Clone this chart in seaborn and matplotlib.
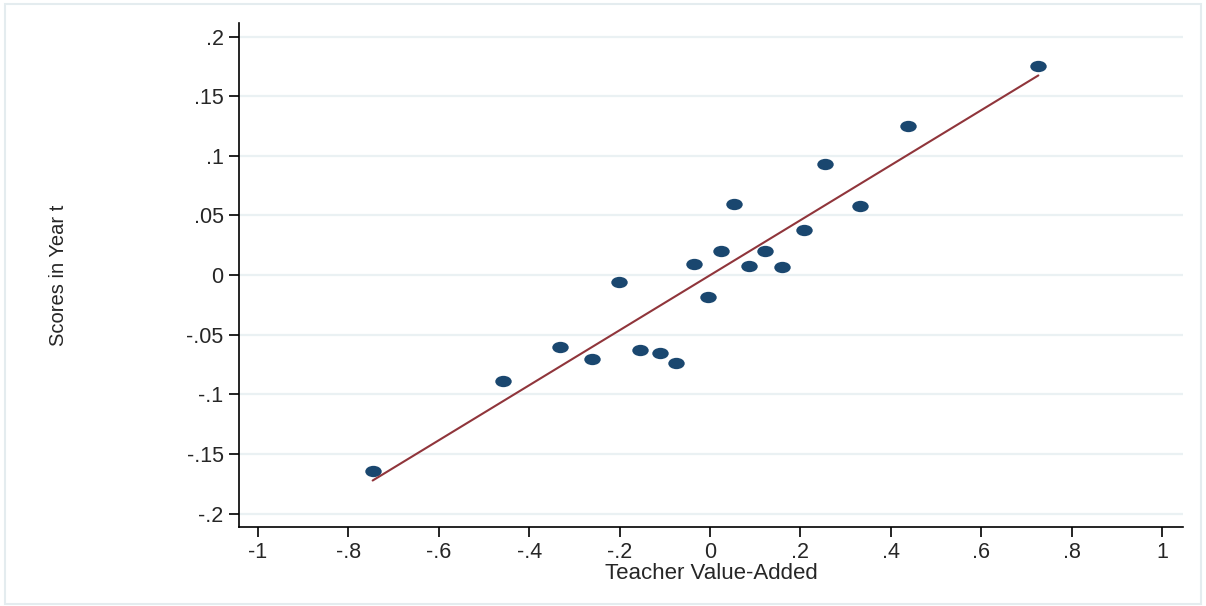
import numpy as np
import matplotlib
matplotlib.use("Agg")
import matplotlib.pyplot as plt
from matplotlib.path import Path
from matplotlib.patches import Rectangle
import seaborn as sns

# binned teacher value-added vs. scores in year t
teacher_va = [-0.746, -0.458, -0.332, -0.261, -0.201, -0.155, -0.111, -0.075,
              -0.035, -0.004, 0.024, 0.053, 0.086, 0.122, 0.159, 0.208,
              0.254, 0.332, 0.438, 0.726]
scores_t = [-0.164, -0.089, -0.060, -0.070, -0.006, -0.063, -0.065, -0.074,
            0.009, -0.018, 0.020, 0.060, 0.008, 0.020, 0.007, 0.038,
            0.093, 0.058, 0.125, 0.175]

x_ticks = [-1, -0.8, -0.6, -0.4, -0.2, 0, 0.2, 0.4, 0.6, 0.8, 1]
x_labels = ["-1", "-.8", "-.6", "-.4", "-.2", "0", ".2", ".4", ".6", ".8", "1"]
y_ticks = [-0.2, -0.15, -0.1, -0.05, 0, 0.05, 0.1, 0.15, 0.2]
y_labels = ["-.2", "-.15", "-.1", "-.05", "0", ".05", ".1", ".15", ".2"]

sns.set_style("white")
plt.rcParams["font.family"] = ["Liberation Sans", "DejaVu Sans"]

# the reference is stretched sideways, so the dots are slightly wide ellipses
circle = Path.unit_circle()
ellipse = Path(circle.vertices * np.array([1.45, 1.0]), circle.codes)

fig = plt.figure(figsize=(12.06, 6.06), dpi=100)
ax = fig.add_axes([0.198, 0.130, 0.783, 0.832])

sns.regplot(x=teacher_va, y=scores_t, ax=ax, ci=None, marker=ellipse,
            scatter_kws={"s": 140, "color": "#1a476f", "linewidths": 0, "alpha": 1},
            line_kws={"color": "#90353b", "linewidth": 1.5})

ax.set_xlim(-1.042, 1.046)
ax.set_ylim(-0.2114, 0.2114)
ax.set_xticks(x_ticks)
ax.set_xticklabels(x_labels)
ax.set_yticks(y_ticks)
ax.set_yticklabels(y_labels)

ax.yaxis.grid(True, color="#eaf1f3", linewidth=1.6)
ax.xaxis.grid(False)
ax.set_axisbelow(True)
for side in ["top", "right"]:
    ax.spines[side].set_visible(False)
for side in ["left", "bottom"]:
    ax.spines[side].set_color("black")
    ax.spines[side].set_linewidth(1.2)
ax.tick_params(axis="both", direction="out", length=7, width=1.2,
               color="black", labelsize=15.5, pad=4, left=True, bottom=True)

ax.set_xlabel("Teacher Value-Added", fontsize=16, labelpad=0)
ax.set_ylabel("Scores in Year t", fontsize=14.5,
              family=["Liberation Sans Narrow", "Liberation Sans", "DejaVu Sans"])
ax.yaxis.set_label_coords(-0.181, 0.5)

# light outline around the whole graph region
fig.patches.append(Rectangle((0.004, 0.004), 0.992, 0.99, transform=fig.transFigure,
                             fill=False, edgecolor="#e4ecef", linewidth=1.5))

fig.savefig("out.png", dpi=100)
